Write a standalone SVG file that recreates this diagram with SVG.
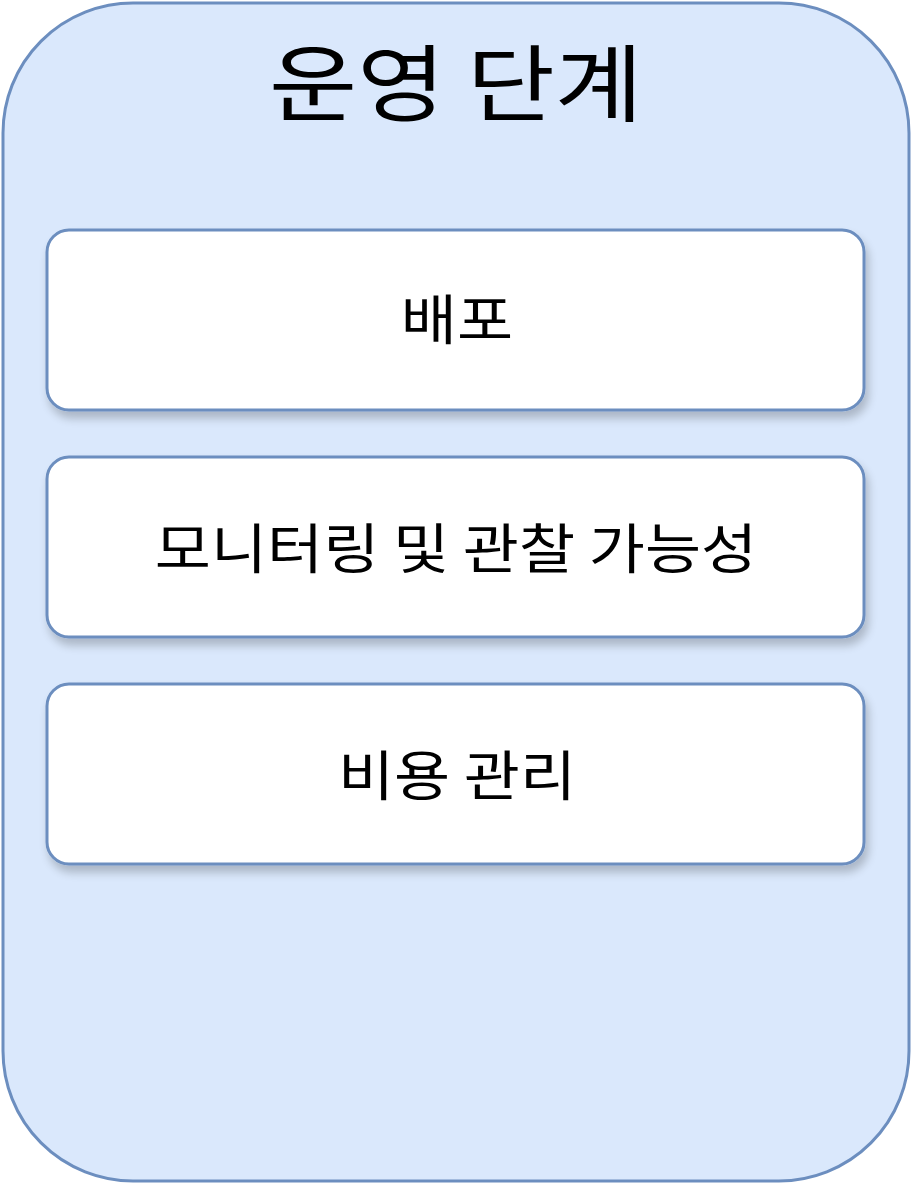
<svg xmlns="http://www.w3.org/2000/svg" width="912" height="1184" viewBox="0 0 912 1184">
<defs>
<filter id="sh" x="-5%" y="-10%" width="110%" height="130%">
<feGaussianBlur in="SourceAlpha" stdDeviation="5"/>
<feOffset dx="3" dy="7" result="b"/>
<feComponentTransfer><feFuncA type="linear" slope="0.22"/></feComponentTransfer>
<feMerge><feMergeNode/><feMergeNode in="SourceGraphic"/></feMerge>
</filter>
</defs>
<style>
.box{fill:#ffffff;stroke:#6c8ebf;stroke-width:3}
.lbl{font-family:"Noto Sans CJK KR","Noto Sans",sans-serif;font-size:54px;fill:#000;text-anchor:middle;dominant-baseline:central}
</style>
<g id="container">
<rect x="3" y="3" width="906" height="1178" rx="130" ry="130" fill="#dae8fc" stroke="#6c8ebf" stroke-width="3"/>
<text transform="translate(456,79) scale(1.14,1)" x="0" y="0" font-family="'Noto Sans CJK KR','Noto Sans',sans-serif" font-size="84" text-anchor="middle" dominant-baseline="central" fill="#000">운영 단계</text>
</g>
<g id="node1" filter="url(#sh)">
<rect class="box" x="47" y="230" width="817" height="180" rx="22" ry="22"/>
<text class="lbl" transform="translate(457,317) scale(1.13,1)" x="0" y="0">배포</text>
</g>
<g id="node2" filter="url(#sh)">
<rect class="box" x="47" y="457" width="817" height="180" rx="22" ry="22"/>
<text class="lbl" transform="translate(456,546) scale(1.13,1)" x="0" y="0">모니터링 및 관찰 가능성</text>
</g>
<g id="node3" filter="url(#sh)">
<rect class="box" x="47" y="684" width="817" height="180" rx="22" ry="22"/>
<text class="lbl" transform="translate(457,773) scale(1.13,1)" x="0" y="0">비용 관리</text>
</g>
<g id="connectors"/>
</svg>
